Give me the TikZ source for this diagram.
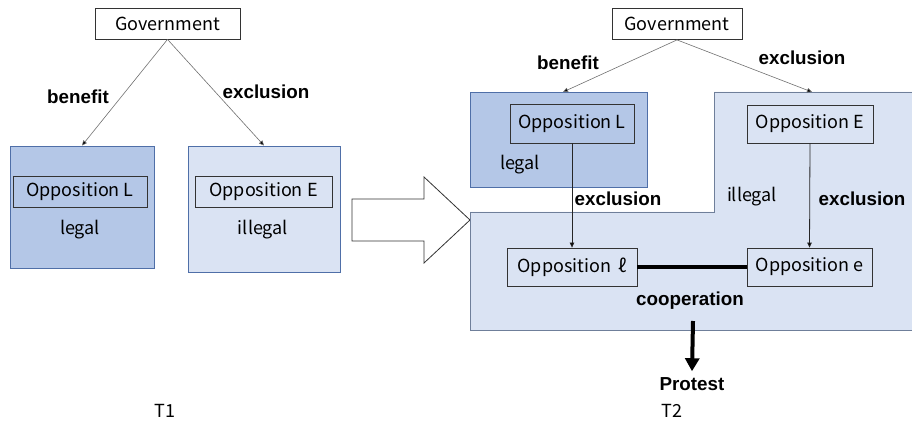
\documentclass[tikz,border=0pt]{standalone}
\usepackage{fontspec}
\setmainfont{Noto Sans CJK JP}
\newfontfamily\boldfont{Liberation Sans}
\usetikzlibrary{arrows.meta,calc}
\definecolor{darkfill}{HTML}{B4C7E7}
\definecolor{lightfill}{HTML}{DAE3F3}
\definecolor{boxline}{HTML}{4F6FA8}
\definecolor{regionline}{HTML}{6F7F9A}
\definecolor{thinline}{HTML}{707070}
\tikzset{
  lbl/.style={font=\fontsize{18}{20}\selectfont, inner sep=0pt},
  blbl/.style={font=\boldfont\bfseries\fontsize{18.8}{21}\selectfont, inner sep=0pt},
  plainbox/.style={draw=black!80, line width=0.8pt, inner sep=0pt, font=\fontsize{18}{20}\selectfont},
  bigbox/.style={draw=boxline, line width=0.9pt, inner sep=0pt},
  thinarrow/.style={draw=thinline, line width=0.6pt, -{Triangle[length=5pt,width=4.5pt,fill=black]}},
  vertarrow/.style={draw=black!85, line width=0.8pt, -{Triangle[length=5pt,width=4.5pt,fill=black]}},
}
\begin{document}
\begin{tikzpicture}[x=1pt,y=-1pt]
\useasboundingbox (0,0) rectangle (912,427);
% ---------- T1 ----------
\node[bigbox, fill=darkfill, minimum width=144pt, minimum height=122pt] (boxL) at (82,207) {};
\node[bigbox, fill=lightfill, minimum width=152pt, minimum height=126pt] (boxE) at (264,209) {};
\node[plainbox, fill=white, minimum width=145pt, minimum height=31pt] (g1) at (167.5,23.5) {Government};
\node[plainbox, minimum width=134pt, minimum height=31pt] (oL) at (80,191.5) {Opposition L};
\node[plainbox, minimum width=137pt, minimum height=31pt] (oE) at (263.5,191.5) {Opposition E};
\node[lbl] (legal1) at (80,230) {legal};
\node[lbl] (illegal1) at (263,230) {illegal};
\draw[thinarrow] (g1.south) -- (boxL.north);
\draw[thinarrow] (g1.south) -- (boxE.north);
\node[blbl] (ben1) at (78,97) {benefit};
\node[blbl] (exc1) at (266,92) {exclusion};
\node[lbl] (T1) at (165,411) {T1};
% ---------- big hollow arrow ----------
\draw[black!80, line width=0.8pt, fill=white] (352,199) -- (424,199) -- (424,177) -- (470,220) -- (424,263) -- (424,241) -- (352,241) -- cycle;
% ---------- T2 ----------
\draw[draw=regionline, line width=0.9pt, fill=lightfill] (714,92) -- (916,92) -- (916,330) -- (470,330) -- (470,212) -- (714,212) -- cycle;
\node[bigbox, fill=darkfill, minimum width=177pt, minimum height=95pt] (boxL2) at (558.5,139.5) {};
\node[plainbox, fill=white, minimum width=130pt, minimum height=31pt] (g2) at (677,24) {Government};
\node[plainbox, minimum width=124pt, minimum height=39pt] (oL2) at (572,123.5) {Opposition L};
\node[plainbox, minimum width=126pt, minimum height=38pt] (oE2) at (810,124) {Opposition E};
\node[plainbox, minimum width=130pt, minimum height=38pt] (ol) at (572,267) {Opposition \,ℓ\hspace{6pt}};
\node[plainbox, minimum width=125pt, minimum height=38pt] (oe) at (809.5,267) {Opposition e};
\node[lbl] (legal2) at (520,165) {legal};
\node[lbl] (illegal2) at (752,197) {illegal};
\coordinate (t1) at (563,92);
\coordinate (t2) at (812,92);
\draw[thinarrow] (g2.south) -- (t1);
\draw[thinarrow] (g2.south) -- (t2);
\node[blbl] (ben2) at (568,63) {benefit};
\node[blbl] (exc2) at (802,58) {exclusion};
\draw[vertarrow] (oL2.south) -- (ol.north);
\draw[vertarrow] (oE2.south) -- (oe.north);
\node[blbl] (exc3) at (618,199) {exclusion};
\node[blbl] (exc4) at (862,199) {exclusion};
\draw[line width=4pt] (ol.east) -- (oe.west);
\node[blbl] (coop) at (690,301) {cooperation};
\coordinate (pstart) at (693,321);
\node[blbl] (protest) at (692,384) {Protest};
\draw[line width=4pt, -{Triangle[length=13pt,width=14pt]}] (pstart) -- ([yshift=6pt]protest.north);
\node[lbl] (T2) at (672,411) {T2};
\end{tikzpicture}
\end{document}
